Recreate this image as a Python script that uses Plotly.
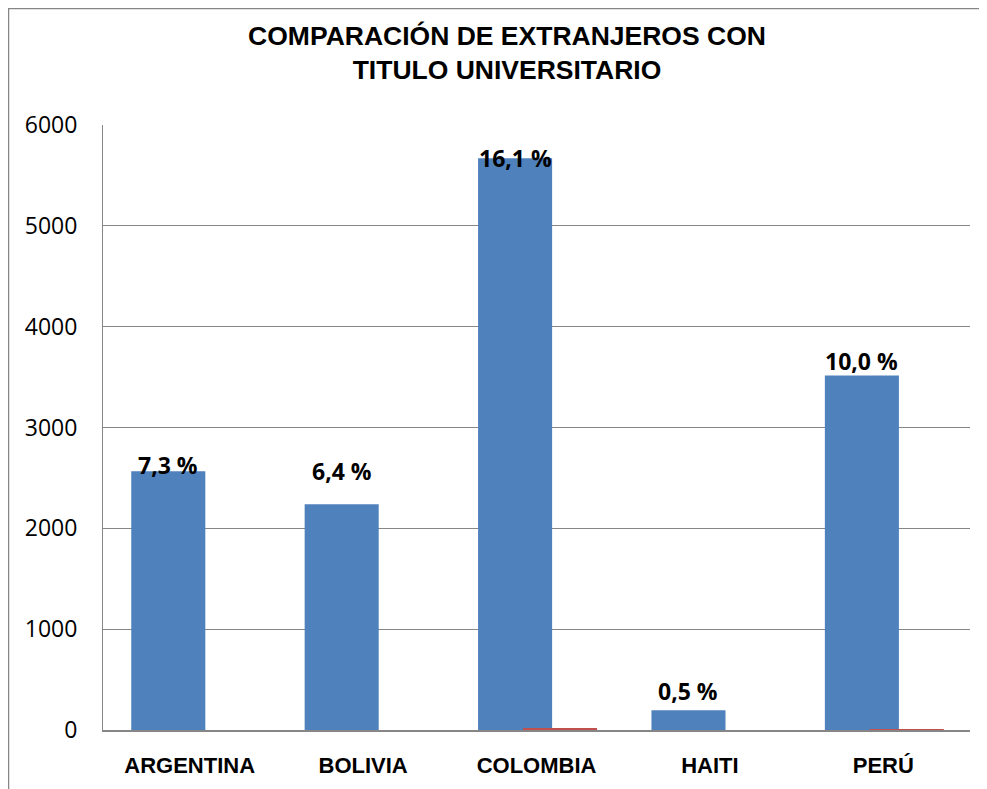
import plotly.graph_objects as go

categories = ["ARGENTINA", "BOLIVIA", "COLOMBIA", "HAITI", "PERÚ"]
graduates = [2565, 2240, 5670, 195, 3515]
second_series = [0, 0, 15, 0, 4]
pct_labels = ["7,3 %", "6,4 %", "16,1 %", "0,5 %", "10,0 %"]

# page body has an 8px margin, so the figure is drawn at (8, 8)
OFF = 8
W, H = 987 - OFF, 789 - OFF
L, R, T, B = 103 - OFF, 17, 125 - OFF, 59
PW, PH = W - L - R, H - T - B

bar_w = 0.427
blue_off = -0.337
red_off = -0.078
label_shift = [6, 33, 0, 19, 15]

fig = go.Figure()
fig.add_trace(go.Bar(x=categories, y=graduates, width=bar_w, offset=blue_off,
                     marker=dict(color="#4F81BD", line=dict(width=0)), showlegend=False))
fig.add_trace(go.Bar(x=categories, y=second_series, width=bar_w, offset=red_off,
                     marker=dict(color="#C0504D", line=dict(width=0)), showlegend=False))

annotations = []
for i, (v, t) in enumerate(zip(graduates, pct_labels)):
    annotations.append(dict(x=i + blue_off + bar_w / 2, y=v, xref="x", yref="y", text=t,
                            showarrow=False, yanchor="middle", xanchor="center",
                            yshift=label_shift[i],
                            font=dict(family="Open Sans, Liberation Sans, Arial", size=23,
                                      color="black", weight="bold")))

def px_to_paper_x(px):
    return (px - L) / PW

def px_to_paper_y(py):
    return (H - B - py) / PH

shapes = [dict(type="rect", xref="paper", yref="paper",
               x0=px_to_paper_x(0.5), x1=px_to_paper_x(W + 20),
               y0=px_to_paper_y(H + 20), y1=px_to_paper_y(0.5),
               line=dict(color="#868686", width=1.5), fillcolor="rgba(0,0,0,0)", layer="below")]

fig.update_layout(
    width=W, height=H,
    margin=dict(l=L, r=R, t=T, b=B, autoexpand=False),
    paper_bgcolor="white", plot_bgcolor="white",
    barmode="overlay",
    title=dict(text="COMPARACIÓN DE EXTRANJEROS CON<br>TITULO UNIVERSITARIO",
               x=(507 - OFF) / W, xanchor="center", y=1 - (45 - OFF) / H, yanchor="middle",
               font=dict(family="Liberation Sans, Arial", size=26.5, color="black", weight="bold")),
    annotations=annotations,
    shapes=shapes,
    xaxis=dict(type="category", showgrid=False, showline=True, linecolor="#868686", linewidth=2,
               ticks="", ticklabelstandoff=15, automargin=False,
               tickfont=dict(family="Liberation Sans, Arial", size=22, color="black", weight="bold")),
    yaxis=dict(range=[0, 6000], tickvals=[0, 1000, 2000, 3000, 4000, 5000, 6000],
               showgrid=True, gridcolor="#868686", gridwidth=1,
               showline=True, linecolor="#868686", linewidth=1, ticks="",
               ticklabelstandoff=20, zeroline=False, automargin=False,
               tickfont=dict(family="Open Sans, Liberation Sans, Arial", size=23, color="black")),
)

fig.write_html("out.html")
